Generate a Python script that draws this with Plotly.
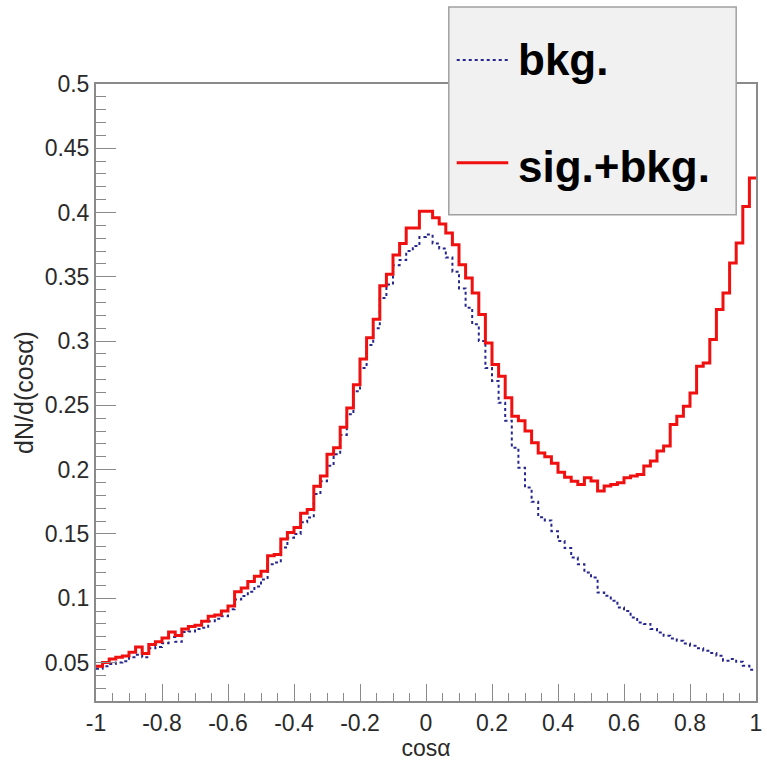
import numpy as np
import plotly.graph_objects as go

# ---- data: 100 bins of width 0.02 on [-1, 1] ----
bin_lo = -1.0
bin_width = 0.02

bkg = [
    0.045, 0.047, 0.0487, 0.050, 0.051, 0.054, 0.056, 0.054, 0.061, 0.062,
    0.065, 0.0697, 0.066, 0.0736, 0.074, 0.076, 0.077, 0.082, 0.084, 0.086,
    0.0914, 0.099, 0.1017, 0.105, 0.109, 0.1146, 0.1264, 0.1277, 0.1394, 0.147,
    0.150, 0.159, 0.1627, 0.181, 0.191, 0.203, 0.212, 0.227, 0.243, 0.261,
    0.279, 0.297, 0.310, 0.3335, 0.344, 0.359, 0.363, 0.370, 0.374, 0.381,
    0.383, 0.376, 0.372, 0.365, 0.354, 0.341, 0.326, 0.313, 0.300, 0.279,
    0.269, 0.252, 0.238, 0.217, 0.2015, 0.186, 0.175, 0.163, 0.1605, 0.152,
    0.1445, 0.139, 0.1316, 0.1264, 0.120, 0.116, 0.1044, 0.1018, 0.098, 0.0928,
    0.090, 0.085, 0.081, 0.080, 0.076, 0.0733, 0.0707, 0.0687, 0.0668, 0.0648,
    0.063, 0.061, 0.059, 0.0573, 0.0552, 0.0513, 0.0526, 0.0505, 0.0474, 0.0443,
]

sig_bkg = [
    0.047, 0.050, 0.0526, 0.054, 0.055, 0.058, 0.062, 0.057, 0.064, 0.066,
    0.069, 0.0736, 0.071, 0.076, 0.078, 0.079, 0.082, 0.086, 0.087, 0.090,
    0.094, 0.105, 0.108, 0.113, 0.117, 0.121, 0.133, 0.134, 0.146, 0.151,
    0.155, 0.166, 0.169, 0.187, 0.195, 0.212, 0.217, 0.233, 0.248, 0.266,
    0.286, 0.3025, 0.317, 0.343, 0.352, 0.367, 0.376, 0.388, 0.388, 0.401,
    0.401, 0.396, 0.391, 0.384, 0.375, 0.3594, 0.349, 0.3374, 0.3206, 0.2986,
    0.2817, 0.2727, 0.2559, 0.2416, 0.238, 0.230, 0.2209, 0.213, 0.210, 0.205,
    0.198, 0.194, 0.191, 0.1885, 0.1937, 0.1911, 0.1834, 0.1872, 0.1885, 0.1898,
    0.1937, 0.195, 0.1963, 0.2028, 0.2067, 0.2144, 0.2183, 0.2351, 0.2416, 0.2494,
    0.2597, 0.2804, 0.283, 0.3012, 0.3245, 0.3374, 0.3607, 0.3763, 0.4047, 0.4268,
]

x_tickvals = [-1, -0.8, -0.6, -0.4, -0.2, 0, 0.2, 0.4, 0.6, 0.8, 1]
x_ticktext = ["-1", "-0.8", "-0.6", "-0.4", "-0.2", "0", "0.2", "0.4", "0.6", "0.8", "1"]
y_tickvals = [0.05, 0.1, 0.15, 0.2, 0.25, 0.3, 0.35, 0.4, 0.45, 0.5]
y_ticktext = ["0.05", "0.1", "0.15", "0.2", "0.25", "0.3", "0.35", "0.4", "0.45", "0.5"]

legend_labels = ["bkg.", "sig.+bkg."]
x_title = "cosα"
y_title = "dN/d(cosα)"

# ---- step outlines from bin edges ----
n = len(bkg)
edges = [bin_lo + bin_width * i for i in range(n + 1)]


def step(vals):
    return edges, list(vals) + [vals[-1]]


FONT = "Liberation Sans, Arial, sans-serif"
AX = "#8a8a8a"
BLUE = "#26268f"
RED = "#f01010"
TXT = "#2a2a2a"

fig = go.Figure()
xb, yb = step(bkg)
fig.add_trace(go.Scatter(x=xb, y=yb, mode="lines", line=dict(shape="hv", color=BLUE, width=2, dash="dot"),
                         name=legend_labels[0], showlegend=False, hoverinfo="skip"))
xs, ys = step(sig_bkg)
fig.add_trace(go.Scatter(x=xs, y=ys, mode="lines", line=dict(shape="hv", color=RED, width=3),
                         name=legend_labels[1], showlegend=False, hoverinfo="skip"))

fig.update_layout(
    width=767, height=761,
    margin=dict(l=96, r=5, t=84, b=59),
    paper_bgcolor="white", plot_bgcolor="white",
    font=dict(family=FONT, color=TXT),
)
fig.update_xaxes(
    range=[-1, 1], showgrid=False, zeroline=False,
    showline=True, mirror=True, linecolor=AX, linewidth=2,
    ticks="inside", ticklen=17, tickwidth=1, tickcolor=AX,
    tickvals=x_tickvals, ticktext=x_ticktext,
    tickfont=dict(size=23, family=FONT, color=TXT),
    minor=dict(ticks="inside", dtick=0.05, tick0=-1, ticklen=8, tickcolor=AX, tickwidth=1, showgrid=False),
    title=dict(text=x_title, font=dict(size=23, family=FONT, color=TXT), standoff=4),
)
fig.update_yaxes(
    range=[0.02, 0.5], showgrid=False, zeroline=False,
    showline=True, mirror=True, linecolor=AX, linewidth=2,
    ticks="inside", ticklen=20, tickwidth=1, tickcolor=AX,
    tickvals=y_tickvals, ticktext=y_ticktext,
    tickfont=dict(size=23, family=FONT, color=TXT),
    minor=dict(ticks="inside", dtick=0.01, tick0=0, ticklen=10, tickcolor=AX, tickwidth=1, showgrid=False),
    title=dict(text=y_title, font=dict(size=25, family=FONT, color=TXT), standoff=4),
)

# ---- legend box (ROOT TLegend style) ----
def px_x(p):
    return (p - 96) / 666.0


def px_y(p):
    return (702 - p) / 618.0


fig.add_shape(type="rect", xref="paper", yref="paper",
              x0=px_x(452), x1=px_x(742), y0=px_y(215), y1=px_y(7),
              fillcolor="#f1f1f1", line=dict(color="#a0a0a0", width=1.5), layer="above")
fig.add_shape(type="line", xref="paper", yref="paper",
              x0=px_x(460), x1=px_x(512), y0=px_y(60), y1=px_y(60),
              line=dict(color=BLUE, width=2, dash="dot"), layer="above")
fig.add_shape(type="line", xref="paper", yref="paper",
              x0=px_x(460), x1=px_x(512), y0=px_y(163), y1=px_y(163),
              line=dict(color=RED, width=3), layer="above")
for lab, yy in zip(legend_labels, [59, 167]):
    fig.add_annotation(text="<b>%s</b>" % lab, xref="paper", yref="paper",
                       x=px_x(520), y=px_y(yy), xanchor="left", yanchor="middle",
                       showarrow=False, font=dict(size=44, family=FONT, color="black"))

fig.write_html("out.html")
